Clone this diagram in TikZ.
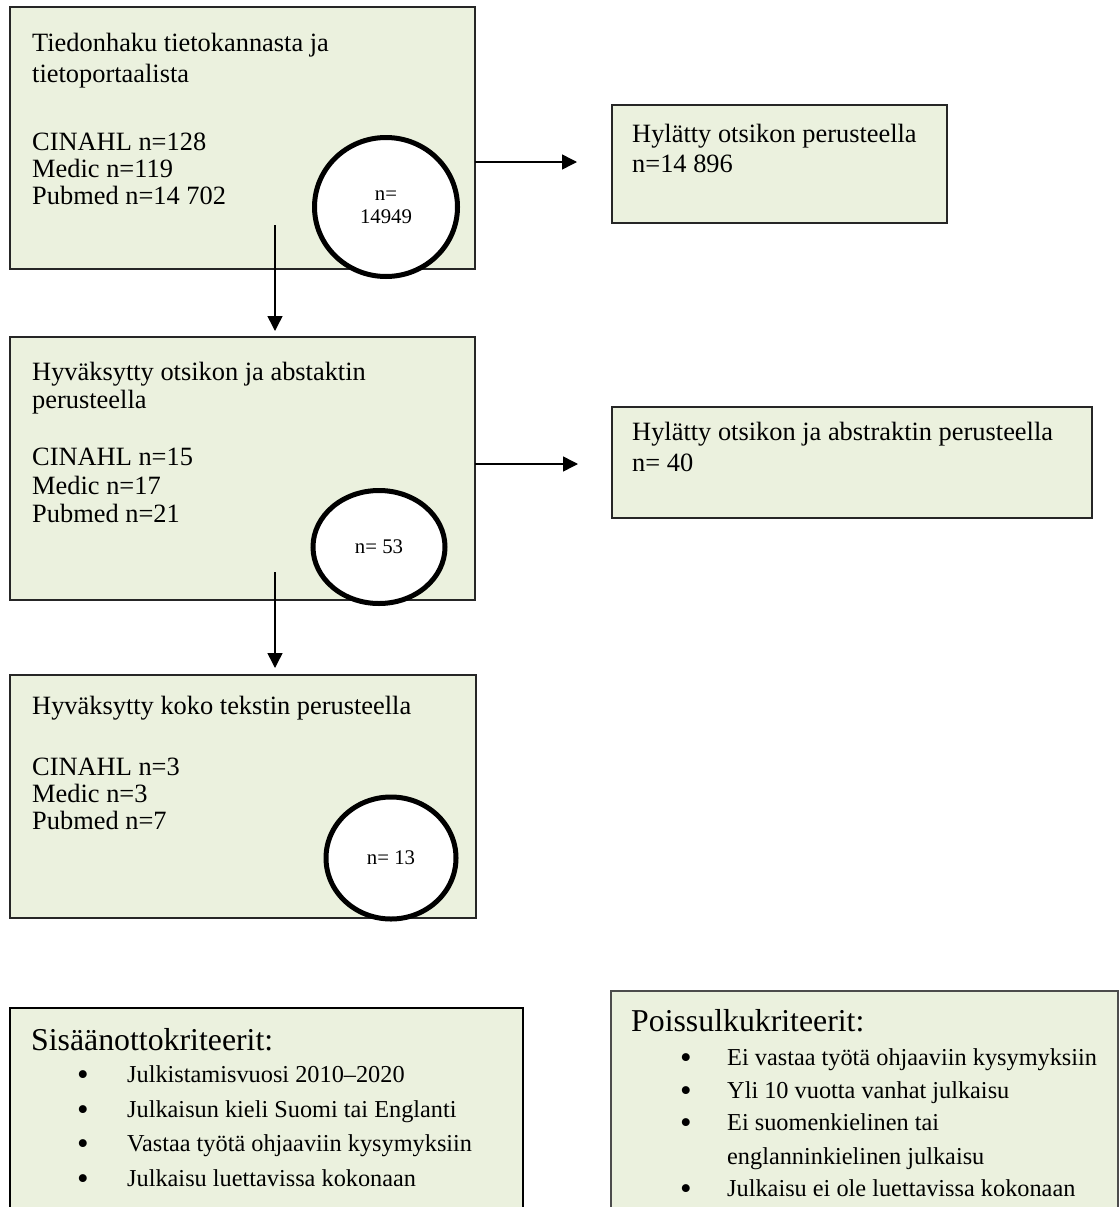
\documentclass[tikz,border=0pt]{standalone}
\usepackage{fontspec}
\setmainfont{Liberation Serif}
\usetikzlibrary{arrows.meta,shapes.geometric}
\definecolor{boxfill}{HTML}{EBF1DE}
\begin{document}
\begin{tikzpicture}[x=1pt,y=-1pt,
  box/.style={draw=black!85, line width=1.3pt, fill=boxfill, anchor=north west, inner sep=0pt, outer sep=0pt},
  txt/.style={anchor=base west, inner sep=0pt, font=\fontsize{26.4}{30}\selectfont},
  ring/.style={ellipse, draw=black, line width=5pt, fill=white, inner sep=0pt, align=center, font=\fontsize{20.8}{23}\selectfont},
  arr/.style={line width=1.5pt, -{Triangle[length=15pt,width=15pt]}},
  head/.style={anchor=base west, inner sep=0pt, font=\fontsize{31.8}{36}\selectfont},
  item/.style={anchor=base west, inner sep=0pt, font=\fontsize{24.3}{28}\selectfont},
  bul/.style={anchor=base, inner sep=0pt, yshift=-3pt, font=\fontsize{33}{36}\selectfont},
]
\useasboundingbox (0,0) rectangle (1119,1207);

% boxes
\node[box, minimum width=465pt, minimum height=262pt] (b1) at (10,7) {};
\node[box, minimum width=465pt, minimum height=263pt] (b2) at (10,337) {};
\node[box, minimum width=466pt, minimum height=243pt] (b3) at (10,675) {};
\node[box, minimum width=335pt, minimum height=118pt] (r1) at (612,105) {};
\node[box, minimum width=480pt, minimum height=111pt] (r2) at (612,407) {};
\node[box, draw=black, minimum width=513pt, minimum height=210pt] (inc) at (10,1008) {};
\node[box, draw=black!70, minimum width=507pt, minimum height=225pt] (exc) at (611,991) {};

% texts box 1
\node[txt] (t11) at (32,52) {Tiedonhaku tietokannasta ja};
\node[txt] (t12) at (32,82) {tietoportaalista};
\node[txt] (t13) at (32,150) {CINAHL n=128};
\node[txt] (t14) at (32,177) {Medic n=119};
\node[txt] (t15) at (32,204) {Pubmed n=14 702};

% texts box 2
\node[txt] (t21) at (32,380) {Hyväksytty otsikon ja abstaktin};
\node[txt] (t22) at (32,408) {perusteella};
\node[txt] (t23) at (32,465) {CINAHL n=15};
\node[txt] (t24) at (32,494) {Medic n=17};
\node[txt] (t25) at (32,522) {Pubmed n=21};

% texts box 3
\node[txt] (t31) at (32,714) {Hyväksytty koko tekstin perusteella};
\node[txt] (t32) at (32,775) {CINAHL n=3};
\node[txt] (t33) at (32,802) {Medic n=3};
\node[txt] (t34) at (32,829) {Pubmed n=7};

% right boxes
\node[txt] (tr11) at (632,142) {Hylätty otsikon perusteella};
\node[txt] (tr12) at (632,172) {n=14 896};
\node[txt] (tr21) at (632,440) {Hylätty otsikon ja abstraktin perusteella};
\node[txt] (tr22) at (632,471) {n= 40};

% circles
\node[ring, minimum width=143pt, minimum height=139pt] (c1) at (386,207) {n=\\14949};
\node[ring, minimum width=132pt, minimum height=113pt] (c2) at (379,547) {n= 53};
\node[ring, minimum width=130pt, minimum height=122pt] (c3) at (391,858) {n= 13};

% arrows
\coordinate (s1) at (275,225);
\coordinate (s2) at (275,572);
\draw[arr, shorten >=6pt] (s1) -- (s1 |- b2.north);
\draw[arr, shorten >=7pt] (s2) -- (s2 |- b3.north);
\draw[arr, shorten >=35pt] (b1.east |- 0,162) -- (r1.west |- 0,162);
\draw[arr, shorten >=34pt] (b2.east |- 0,464) -- (r2.west |- 0,464);

% inclusion criteria
\node[head] (ih) at (31,1050) {Sisäänottokriteerit:};
\node[bul] (ib1) at (83,1082) {•};
\node[item] (ii1) at (127,1082) {Julkistamisvuosi 2010–2020};
\node[bul] (ib2) at (83,1117) {•};
\node[item] (ii2) at (127,1117) {Julkaisun kieli Suomi tai Englanti};
\node[bul] (ib3) at (83,1151) {•};
\node[item] (ii3) at (127,1151) {Vastaa työtä ohjaaviin kysymyksiin};
\node[bul] (ib4) at (83,1186) {•};
\node[item] (ii4) at (127,1186) {Julkaisu luettavissa kokonaan};

% exclusion criteria
\node[head] (eh) at (631,1031) {Poissulkukriteerit:};
\node[bul] (eb1) at (686,1065) {•};
\node[item] (ei1) at (727,1065) {Ei vastaa työtä ohjaaviin kysymyksiin};
\node[bul] (eb2) at (686,1098) {•};
\node[item] (ei2) at (727,1098) {Yli 10 vuotta vanhat julkaisu};
\node[bul] (eb3) at (686,1130) {•};
\node[item] (ei3) at (727,1130) {Ei suomenkielinen tai};
\node[item] (ei3b) at (727,1164) {englanninkielinen julkaisu};
\node[bul] (eb4) at (686,1196) {•};
\node[item] (ei4) at (727,1196) {Julkaisu ei ole luettavissa kokonaan};
\end{tikzpicture}
\end{document}
